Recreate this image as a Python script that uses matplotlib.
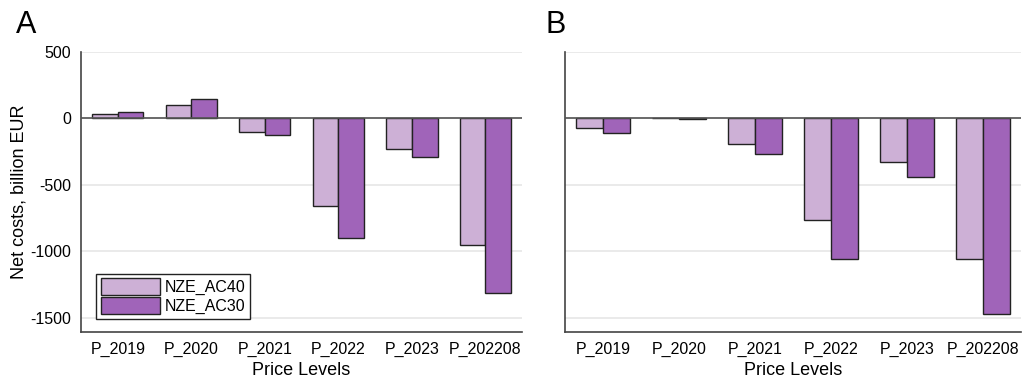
import numpy as np
import matplotlib.pyplot as plt

plt.rcParams['font.family'] = ['Liberation Sans', 'DejaVu Sans']
plt.rcParams['axes.unicode_minus'] = False

categories = ['P_2019', 'P_2020', 'P_2021', 'P_2022', 'P_2023', 'P_202208']
series_names = ['NZE_AC40', 'NZE_AC30']
colors = ['#CDB0D6', '#A064B9']

# panel A
a_ac40 = [33, 100, -100, -657, -230, -955]
a_ac30 = [45, 142, -130, -902, -290, -1317]
# panel B
b_ac40 = [-73, 0, -192, -762, -328, -1055]
b_ac30 = [-112, -8, -270, -1055, -440, -1472]


def draw_panel(ax, ac40, ac30, show_y):
    x = np.arange(len(categories))
    w = 0.35
    ax.bar(x - w / 2, ac40, w, color=colors[0], edgecolor='#222222', lw=1, label=series_names[0], zorder=3)
    ax.bar(x + w / 2, ac30, w, color=colors[1], edgecolor='#222222', lw=1, label=series_names[1], zorder=3)
    ax.axhline(0, color='#555555', lw=1.2, zorder=4)
    ax.set_xlim(-0.5, len(categories) - 0.5)
    ax.set_ylim(-1605, 500)
    ax.set_yticks([500, 0, -500, -1000, -1500])
    ax.yaxis.grid(True, color='#e6e6e6', lw=1.2, zorder=0)
    ax.set_axisbelow(True)
    ax.set_xticks(x)
    ax.set_xticklabels(categories)
    ax.tick_params(length=0, labelsize=11.5, pad=7)
    ax.set_xlabel('Price Levels', fontsize=13, labelpad=4)
    if show_y:
        ax.set_ylabel('Net costs, billion EUR', fontsize=13, labelpad=2)
    else:
        ax.set_yticklabels([])
    for s in ('top', 'right'):
        ax.spines[s].set_visible(False)
    for s in ('left', 'bottom'):
        ax.spines[s].set_color('#444444')
        ax.spines[s].set_linewidth(1.2)


fig = plt.figure(figsize=(10.24, 3.83), dpi=100)
axA = fig.add_axes([0.0791, 0.134, 0.4307, 0.731])
axB = fig.add_axes([0.5518, 0.134, 0.4453, 0.731])

draw_panel(axA, a_ac40, a_ac30, True)
draw_panel(axB, b_ac40, b_ac30, False)

leg = axA.legend(loc='lower left', bbox_to_anchor=(0.035, 0.045), fontsize=11.5,
                 handlelength=3.7, handleheight=1.25, fancybox=False,
                 framealpha=1, edgecolor='#222222', borderpad=0.3,
                 labelspacing=0.12, handletextpad=0.25, borderaxespad=0)
leg.get_frame().set_linewidth(1)

fig.text(0.016, 0.913, 'A', fontsize=22)
fig.text(0.533, 0.913, 'B', fontsize=22)

fig.savefig('out.png', dpi=100)
